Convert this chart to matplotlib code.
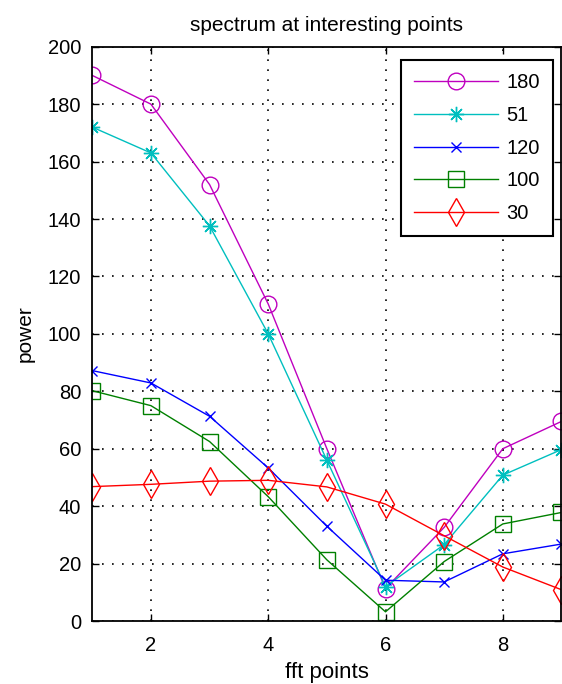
import numpy as np
import matplotlib
matplotlib.use('Agg')
import matplotlib.pyplot as plt

plt.rcParams['font.family'] = ['Liberation Sans', 'DejaVu Sans']

# fft point index
fft_points = [1, 2, 3, 4, 5, 6, 7, 8, 9]

# power at each point, one series per "interesting point"
power_180 = [190, 180, 152, 110.4, 60, 11.3, 32.6, 60, 69.5]
power_51 = [172, 163, 137.6, 100, 56, 12, 26.6, 50.8, 59.7]
power_120 = [87.2, 82.9, 71.3, 53.3, 33, 14.2, 13.6, 23.4, 26.8]
power_100 = [80.2, 75, 62.5, 43.3, 21.3, 3.2, 20.7, 33.8, 37.8]
power_30 = [46.8, 47.6, 48.7, 49, 46.7, 40.7, 29.7, 18.8, 10.9]

labels = ['180', '51', '120', '100', '30']
x_ticks = [2, 4, 6, 8]
y_ticks = [0, 20, 40, 60, 80, 100, 120, 140, 160, 180, 200]

fig = plt.figure(figsize=(5.62, 6.84), dpi=100)
ax = fig.add_axes([0.1642, 0.0921, 0.8348, 0.8396])

ax.plot(fft_points, power_180, color='#bf00bf', lw=1, marker='o', ms=12,
        mfc='none', mec='#bf00bf', label=labels[0])
ax.plot(fft_points, power_51, color='#00bfbf', lw=1, marker=(8, 2, 0), ms=11,
        mec='#00bfbf', label=labels[1])
ax.plot(fft_points, power_120, color='#0000ff', lw=1, marker='x', ms=7,
        mec='#0000ff', label=labels[2])
ax.plot(fft_points, power_100, color='#008000', lw=1, marker='s', ms=12,
        mfc='none', mec='#008000', label=labels[3])
ax.plot(fft_points, power_30, color='#ff0000', lw=1, marker='d', ms=14,
        mfc='none', mec='#ff0000', label=labels[4])

ax.set_xlim(1, 9)
ax.set_ylim(0, 200)
ax.set_xticks(x_ticks)
ax.set_yticks(y_ticks)
ax.tick_params(direction='in', length=5, width=1, top=True, right=True,
               labelsize=14.5, colors='black')
ax.tick_params(axis='x', pad=11)
ax.tick_params(axis='y', pad=8)
ax.grid(True, color='black', linestyle=(0, (1, 5)), linewidth=1.2)
for s in ax.spines.values():
    s.set_linewidth(1.3)

ax.set_title('spectrum at interesting points', fontsize=15, pad=11)
ax.set_xlabel('fft points', fontsize=16, labelpad=5)
ax.set_ylabel('power', fontsize=15, labelpad=9)

leg = ax.legend(loc='upper right', bbox_to_anchor=(0.984, 0.912),
                bbox_transform=fig.transFigure, borderaxespad=0,
                fontsize=14.5, handlelength=4.2, labelspacing=0.68,
                handletextpad=0.4, borderpad=0.65, fancybox=False,
                framealpha=1, edgecolor='black')
leg.get_frame().set_linewidth(1.5)

plt.savefig('out.png', dpi=100)
